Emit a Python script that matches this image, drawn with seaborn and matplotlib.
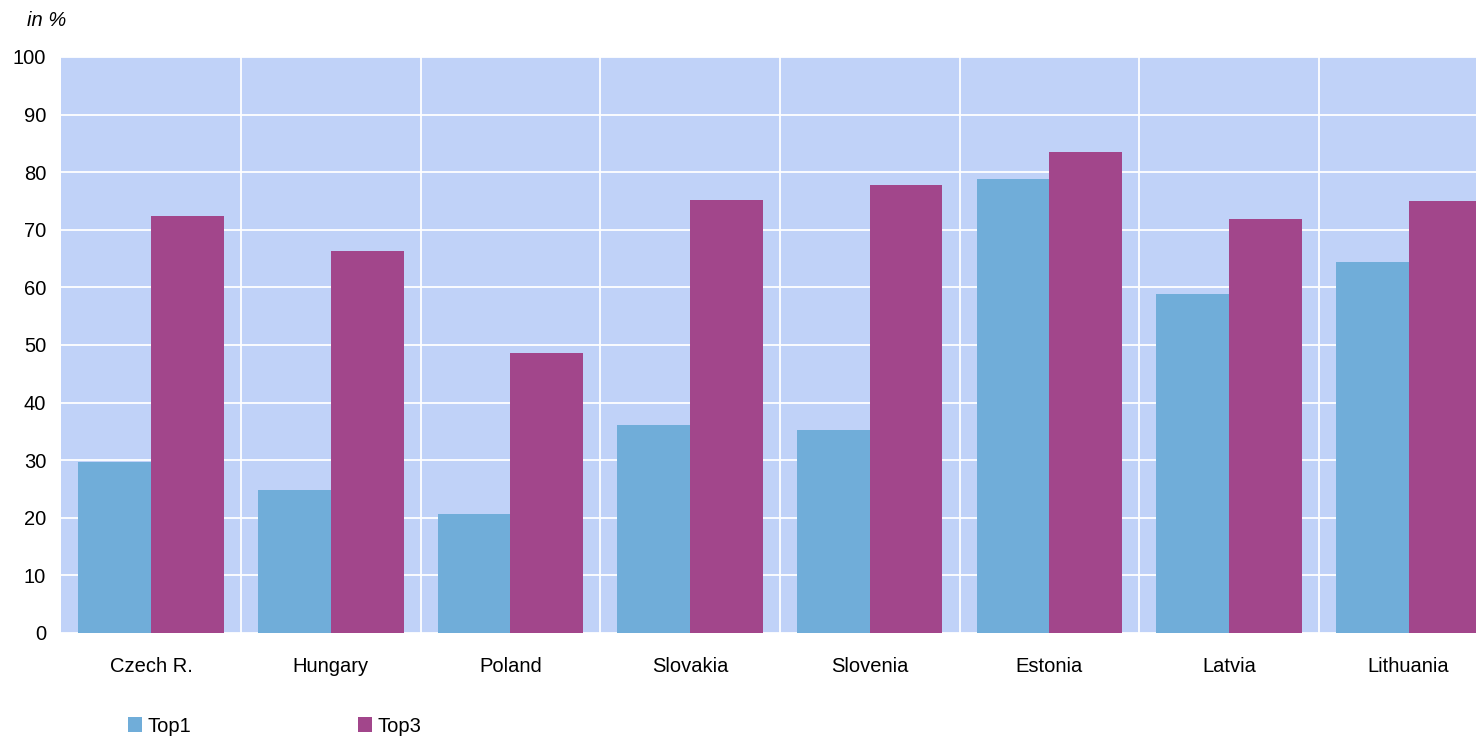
import matplotlib
matplotlib.use("Agg")
import matplotlib.pyplot as plt
import seaborn as sns
import pandas as pd
from matplotlib.patches import Patch

countries = ["Czech R.", "Hungary", "Poland", "Slovakia", "Slovenia", "Estonia", "Latvia", "Lithuania"]
top1 = [29.7, 24.8, 20.7, 36.1, 35.2, 78.8, 58.9, 64.4]
top3 = [72.4, 66.3, 48.6, 75.2, 77.8, 83.5, 71.9, 75.0]
series = ["Top1", "Top3"]
y_ticks = [0, 10, 20, 30, 40, 50, 60, 70, 80, 90, 100]

df = pd.DataFrame({
    "country": countries * 2,
    "value": top1 + top3,
    "series": [series[0]] * len(countries) + [series[1]] * len(countries),
})

sns.set_theme(style="white")
plt.rcParams["font.family"] = ["Liberation Sans", "DejaVu Sans"]
plt.rcParams["text.color"] = "black"

colors = {"Top1": "#70ADD9", "Top3": "#A2468B"}

fig = plt.figure(figsize=(14.76, 7.38), dpi=100)
ax = fig.add_axes([61.4 / 1476, 1 - 633 / 738, 1437 / 1476, 576 / 738])
ax.set_facecolor("#C0D2F8")

sns.barplot(data=df, x="country", y="value", hue="series", palette=colors,
            width=0.81, gap=0, dodge=True, saturation=1, ax=ax, legend=False,
            edgecolor="none", linewidth=0)

ax.set_xlim(-0.5, len(countries) - 0.5)
ax.set_ylim(0, 100)
ax.set_yticks(y_ticks)
ax.set_yticklabels([str(t) for t in y_ticks])
ax.set_xticks(range(len(countries)))
ax.set_xticks([i + 0.5 for i in range(len(countries) - 1)], minor=True)
ax.tick_params(axis="both", which="both", length=0, labelsize=14.5, colors="#000000")
ax.tick_params(axis="y", pad=11)
ax.tick_params(axis="x", pad=17)
ax.grid(False)
ax.yaxis.grid(True, color="white", linewidth=1.3)
ax.xaxis.grid(True, which="minor", color="white", linewidth=1.3)
ax.set_axisbelow(True)
for s in ax.spines.values():
    s.set_visible(False)
ax.set_xlabel("")
ax.set_ylabel("")

fig.text(27 / 1476, 1 - 21 / 738, "in %", fontsize=14.5, style="italic", va="center", ha="left",
         color="black")

handles = [Patch(facecolor=colors[s], edgecolor="none", label=s) for s in series]
leg = fig.legend(handles=handles, loc="center left", bbox_to_anchor=(120 / 1476, 1 - 726 / 738),
                 ncol=2, frameon=False, fontsize=14.5, handlelength=0.7, handleheight=0.7,
                 handletextpad=0.25, columnspacing=8.3, borderaxespad=0, labelcolor="black")

fig.savefig("out.png", dpi=100)
